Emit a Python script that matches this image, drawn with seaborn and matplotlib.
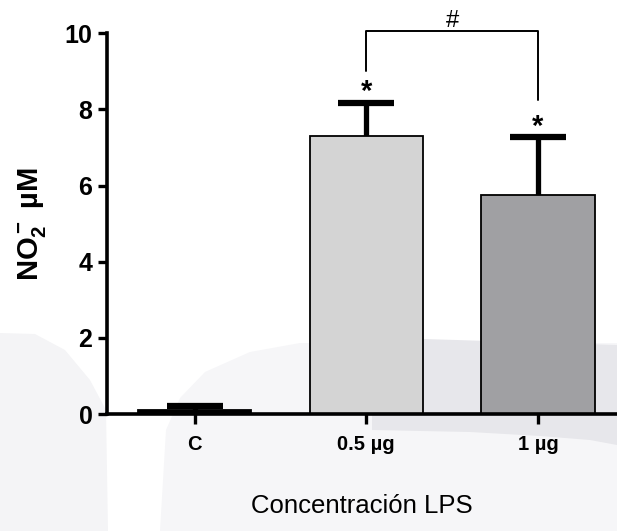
import matplotlib
matplotlib.use("Agg")
import matplotlib.pyplot as plt
from matplotlib.patches import Polygon
import numpy as np
import pandas as pd
import seaborn as sns

# Nitrite production after LPS stimulation (mean + SD)
categories = ["C", "0.5 µg", "1 µg"]
means = [0.1, 7.3, 5.75]
sds = [0.1, 0.88, 1.52]
bar_colors = ["#000000", "#d4d4d4", "#a09fa4"]
star_labels = ["", "*", "*"]
yticks = [0, 2, 4, 6, 8, 10]

sns.set_style("ticks")
plt.rcParams["font.family"] = ["Liberation Sans", "DejaVu Sans"]
plt.rcParams["mathtext.fontset"] = "custom"
plt.rcParams["mathtext.rm"] = "Liberation Sans:bold"
plt.rcParams["mathtext.bf"] = "Liberation Sans:bold"
plt.rcParams["mathtext.default"] = "bf"
for key in ["text.color", "axes.labelcolor", "xtick.color", "ytick.color",
            "axes.edgecolor"]:
    plt.rcParams[key] = "black"

fig = plt.figure(figsize=(6.17, 5.31), dpi=100)
fig.patch.set_facecolor("white")

# faint background shading behind the plot
W, H = 617.0, 531.0
def fp(pts):
    return [(x / W, 1 - y / H) for x, y in pts]

def shade(points, color):
    fig.add_artist(Polygon(fp(points), closed=True, transform=fig.transFigure,
                           facecolor=color, edgecolor="none", zorder=-10))

shade([(0, 333), (35, 334), (65, 350), (90, 380), (106, 410), (108, 531),
       (0, 531)], "#f4f4f6")
shade([(160, 531), (166, 430), (180, 398), (205, 372), (250, 352), (300, 343),
       (617, 343), (617, 531)], "#f6f6f8")
shade([(424, 339), (617, 345), (617, 445), (590, 440), (540, 436), (470, 432),
       (372, 430), (372, 414), (424, 414)], "#e7e7eb")

ax = fig.add_axes([107 / W, 1 - 414 / H, 1 - 107 / W, (414 - 33.3) / H])
ax.set_facecolor("none")

df = pd.DataFrame({"grupo": categories, "no2": means})
sns.barplot(data=df, x="grupo", y="no2", hue="grupo", palette=bar_colors,
            width=0.66, edgecolor="black", linewidth=1.3, legend=False,
            errorbar=None, ax=ax, zorder=2)

# SD whiskers; the lower half is hidden behind the opaque bars
xpos = np.arange(len(categories))
ax.errorbar(xpos, means, yerr=sds, fmt="none", ecolor="black",
            elinewidth=3.8, capsize=20.5, capthick=4.5, zorder=1)

# significance stars above error bars
for x, m, s, lab in zip(xpos, means, sds, star_labels):
    if lab:
        ax.text(x, m + s + 0.07, lab, ha="center", va="baseline",
                fontsize=21, fontweight="bold", zorder=4)

# bracket between the two LPS doses
y_top = 10.05
ax.plot([1, 1, 2, 2], [9.0, y_top, y_top, 8.25], color="black", lw=1.4,
        clip_on=False, zorder=4)
ax.text(1.5, y_top + 0.12, "#", ha="center", va="baseline", fontsize=17,
        clip_on=False)

ax.set_xlim(-0.51, 2.46)
ax.set_ylim(0, 10)
ax.set_yticks(yticks)
ax.set_yticklabels([str(t) for t in yticks])

for side in ["top", "right"]:
    ax.spines[side].set_visible(False)
for side in ["left", "bottom"]:
    ax.spines[side].set_linewidth(2.6)
    ax.spines[side].set_color("black")
    ax.spines[side].set_zorder(5)

ax.tick_params(axis="y", length=6.5, width=2.4, pad=4, labelsize=18)
ax.tick_params(axis="x", length=7, width=2.4, pad=8, labelsize=14.5)
for lab in ax.get_yticklabels() + ax.get_xticklabels():
    lab.set_fontweight("bold")

ax.set_xlabel("Concentración LPS", fontsize=18.5, labelpad=29)
ax.set_ylabel(r"NO$_2^-$ µM", fontsize=21, fontweight="bold", labelpad=12)

fig.savefig("out.png", dpi=100)
